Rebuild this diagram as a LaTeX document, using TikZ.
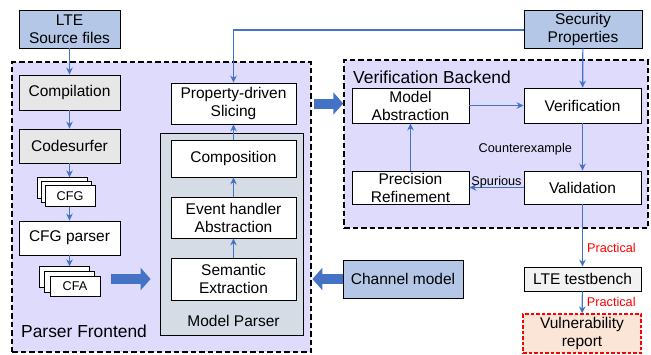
\documentclass[tikz,border=0pt]{standalone}
\usepackage{fontspec}
\setmainfont{Liberation Sans}
\usetikzlibrary{shadows,arrows.meta,calc}
\definecolor{lblue}{RGB}{180,199,231}
\definecolor{cgray}{RGB}{231,231,231}
\definecolor{lgray}{RGB}{242,242,242}
\definecolor{mpfill}{RGB}{214,220,229}
\definecolor{lav}{RGB}{223,219,252}
\definecolor{cblue}{RGB}{68,114,196}
\definecolor{peach}{RGB}{251,229,214}
\newcommand{\mainfs}{\fontsize{15.5}{18}\selectfont}
\newcommand{\smallfs}{\fontsize{12.7}{14}\selectfont}
\newcommand{\groupfs}{\fontsize{17.4}{20}\selectfont}
\begin{document}
\begin{tikzpicture}[x=1pt,y=-1pt,
  base/.style={draw=black, line width=0.8pt, inner sep=0pt, align=center, font=\mainfs},
  shadowed/.style={drop shadow={shadow xshift=1.3pt,shadow yshift=-1.3pt,opacity=0.4,fill=black}},
  whitebox/.style={base, fill=white},
  graybox/.style={base, fill=cgray, shadowed},
  bluebox/.style={base, fill=lblue, shadowed},
  stackbox/.style={draw=black, line width=0.8pt, fill=white, inner sep=0pt, minimum width=50pt, minimum height=20.5pt, font=\smallfs},
  region/.style={draw=black, dash pattern=on 5.5pt off 3pt, line width=1.5pt, fill=lav, inner sep=0pt},
  conn/.style={draw=cblue, line width=1.2pt, -{Stealth[length=7pt,width=6.5pt]}},
  bigarrow/.style={draw=cblue, line width=10pt, -{Triangle[length=10pt,width=22pt]}},
  lbl/.style={font=\smallfs, inner sep=0pt},
  redlbl/.style={font=\smallfs, inner sep=0pt, text=red}
]
\useasboundingbox (0,0) rectangle (651,354);

% regions
\node[region, minimum width=299pt, minimum height=290pt] (pf) at (161.5,207) {};
\node[region, minimum width=304pt, minimum height=168pt] (vb) at (496,144) {};
\node[font=\groupfs, anchor=west, inner sep=0pt] (pflbl) at (21,331) {Parser Frontend};
\node[font=\groupfs, anchor=west, inner sep=0pt] (vblbl) at (353,77) {Verification Backend};

% model parser container
\node[base, fill=mpfill, shadowed, minimum width=143pt, minimum height=202pt] (mp) at (231.5,234) {};
\node[font=\mainfs, inner sep=0pt] (mplbl) at (233.5,321) {Model Parser};

% left column
\node[bluebox, minimum width=101pt, minimum height=38pt] (src) at (69.5,29) {LTE\\Source files};
\node[graybox, minimum width=101pt, minimum height=35pt] (comp) at (69.5,92.5) {Compilation};
\node[graybox, minimum width=101pt, minimum height=34pt] (codes) at (69.5,146) {Codesurfer};
\node[stackbox] (cfgb) at (62,188) {};
\node[stackbox] (cfgm) at (66,192) {};
\node[stackbox] (cfgf) at (70,196) {CFG};
\node[whitebox, minimum width=101pt, minimum height=34pt] (cfgp) at (69.5,238) {CFG parser};
\node[stackbox] (cfab) at (64,277) {};
\node[stackbox] (cfam) at (69.5,281.75) {};
\node[stackbox] (cfaf) at (75,286.5) {CFA};

% middle column
\node[whitebox, minimum width=125pt, minimum height=41pt] (slice) at (233.5,103.5) {Property-driven\\Slicing};
\node[whitebox, minimum width=125pt, minimum height=37pt] (compo) at (233.5,158.5) {Composition};
\node[whitebox, minimum width=125pt, minimum height=41pt] (eha) at (233.5,217.5) {Event handler\\Abstraction};
\node[whitebox, minimum width=125pt, minimum height=42pt] (sem) at (233.5,279) {Semantic\\Extraction};

% right side
\node[bluebox, minimum width=118pt, minimum height=38pt] (secp) at (583,29) {Security\\Properties};
\node[whitebox, minimum width=117pt, minimum height=35pt] (mabs) at (410.5,105.5) {Model\\Abstraction};
\node[whitebox, minimum width=117pt, minimum height=35pt] (verif) at (582.5,105.5) {Verification};
\node[whitebox, minimum width=117pt, minimum height=33pt] (prec) at (410.5,187.5) {Precision\\Refinement};
\node[whitebox, minimum width=117pt, minimum height=33pt] (valid) at (582.5,187.5) {Validation};
\node[base, fill=lgray, shadowed, minimum width=117pt, minimum height=24pt] (lteb) at (582.5,279) {LTE testbench};
\node[base, draw=red, line width=1.2pt, dash pattern=on 3.5pt off 2pt, fill=peach, minimum width=118pt, minimum height=39pt] (vuln) at (582,333.5) {Vulnerability\\report};
\node[bluebox, minimum width=120pt, minimum height=38pt] (chan) at (403,279) {Channel model};

% connectors
\draw[conn] (src) -- (comp);
\draw[conn] (comp) -- (codes);
\draw[conn] (codes.south) -- (codes.south |- cfgb.north);
\draw[conn] (cfgp.north |- cfgf.south) -- (cfgp.north);
\draw[conn] (cfgp.south) -- (cfgp.south |- cfab.north);
\draw[conn] (sem) -- (eha);
\draw[conn] (eha) -- (compo);
\draw[conn] (compo) -- (slice);
\draw[conn] ([yshift=-1pt]secp.west) -| (slice.north);
\draw[conn] (secp) -- (verif);
\draw[conn] (mabs) -- (verif);
\draw[conn] (verif) -- node[lbl, anchor=east, xshift=-10pt, yshift=-2pt] {Counterexample} (valid);
\draw[conn] (valid) -- node[lbl, anchor=south, yshift=-1.5pt] {Spurious} (prec);
\draw[conn] (prec) -- (mabs);
\draw[conn] (valid) -- node[redlbl, pos=0.7, anchor=west, xshift=4pt] {Practical} (lteb);
\draw[conn] (lteb) -- node[redlbl, anchor=west, xshift=4pt] {Practical} (vuln);

% big arrows
\draw[bigarrow] ([xshift=11pt]cfaf.east |- sem) -- ([xshift=-9pt]mp.west |- sem);
\draw[bigarrow] ([xshift=2pt]pf.east |- slice) -- (vb.west |- slice);
\draw[bigarrow] (chan.west) -- ([xshift=9pt]mp.east |- chan);
\end{tikzpicture}
\end{document}
